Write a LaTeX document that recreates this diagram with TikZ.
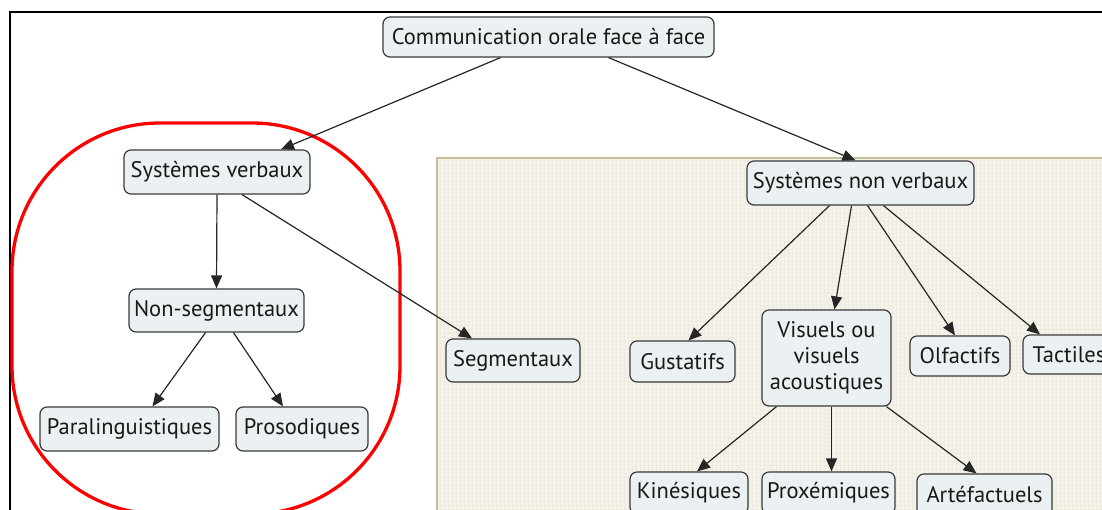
\documentclass[tikz,border=0pt]{standalone}
\usepackage{fontspec}
\setmainfont{PT Sans}
\usetikzlibrary{arrows.meta,calc}
\definecolor{nodefill}{HTML}{EBF0F2}
\definecolor{nodeline}{HTML}{3A3A3A}
\definecolor{panelfill}{HTML}{F5F3EC}
\definecolor{panelline}{HTML}{C8BE9A}
\definecolor{panelgrid}{HTML}{EEEBE1}
\begin{document}
\begin{tikzpicture}[x=1pt,y=-1pt,
  concept/.style={draw=nodeline, fill=nodefill, rounded corners=7pt, line width=1.2pt,
    inner sep=0pt, font=\fontsize{22.5}{26}\selectfont, text=black!90, align=center},
  link/.style={draw=black!85, line width=1.2pt, -{Triangle[length=13pt,width=11pt]}},
]
\useasboundingbox (0,0) rectangle (1102,509);
\clip (0,0) rectangle (1102,509);
\fill[white] (0,0) rectangle (1102,509);

% textured panel behind the non-verbal branch
\fill[panelfill] (437,158) rectangle (1110,520);
\foreach \gx in {440,444,...,1102} \draw[panelgrid, line width=0.5pt] (\gx,158) -- (\gx,509);
\foreach \gy in {161,165,...,509} \draw[panelgrid, line width=0.5pt] (437,\gy) -- (1102,\gy);
\draw[panelline, line width=2pt] (1110,158) -- (437,158) -- (437,520);

% outer frame
\draw[black, line width=2pt] (1110,12) -- (10,12) -- (10,520);

% red outline around the verbal branch
\draw[red, line width=3.3pt, rounded corners=148pt] (12,123) rectangle (400,514);

% concepts
\node[concept, minimum width=331pt, minimum height=40pt] (comm) at (548.5,37) {Communication orale face à face};
\node[concept, minimum width=186pt, minimum height=44pt] (sv) at (217,172) {Systèmes verbaux};
\node[concept, minimum width=175pt, minimum height=43pt] (ns) at (216.5,310.5) {Non-segmentaux};
\node[concept, minimum width=179pt, minimum height=44pt] (para) at (129.5,429) {Paralinguistiques};
\node[concept, minimum width=132pt, minimum height=44pt] (pros) at (302,429) {Prosodiques};
\node[concept, minimum width=134pt, minimum height=43pt] (seg) at (513,360.5) {Segmentaux};
\node[concept, minimum width=227pt, minimum height=44pt] (snv) at (860.5,183) {Systèmes non verbaux};
\node[concept, minimum width=105pt, minimum height=41pt] (gust) at (682.5,361.5) {Gustatifs};
\node[concept, minimum width=129pt, minimum height=96pt] (vis) at (826.5,358) {Visuels ou\\visuels\\acoustiques};
\node[concept, minimum width=100pt, minimum height=40pt] (olf) at (960,356) {Olfactifs};
\node[concept, minimum width=92pt, minimum height=39pt] (tac) at (1069,354.5) {Tactiles};
\node[concept, minimum width=118pt, minimum height=42pt] (kin) at (689,493) {Kinésiques};
\node[concept, minimum width=133pt, minimum height=42pt] (prox) at (828.5,493) {Proxémiques};
\node[concept, minimum width=135pt, minimum height=42pt] (art) at (984.5,495) {Artéfactuels};

% links
\draw[link] ($(comm.south)+(-48,0)$) -- ($(sv.north)+(64,0)$);
\draw[link] ($(comm.south)+(60,0)$) -- ($(snv.north)+(-5,0)$);
\draw[link] (sv.south) -- (ns.north);
\draw[link] ($(sv.south)+(25,0)$) -- ($(seg.north)+(-41,0)$);
\draw[link] ($(ns.south)+(-11,0)$) -- ($(para.north)+(23,0)$);
\draw[link] ($(ns.south)+(17,0)$) -- ($(pros.north)+(-19,0)$);
\draw[link] ($(snv.south)+(-31,0)$) -- ($(gust.north)+(6,0)$);
\draw[link] ($(snv.south)+(-9,0)$) -- ($(vis.north)+(8,0)$);
\draw[link] ($(snv.south)+(7,0)$) -- ($(olf.north)+(-5,0)$);
\draw[link] ($(snv.south)+(23,0)$) -- ($(tac.north)+(-29,0)$);
\draw[link] ($(vis.south)+(-50,0)$) -- ($(kin.north)+(8,0)$);
\draw[link] ($(vis.south)+(5,0)$) -- ($(prox.north)+(3,0)$);
\draw[link] ($(vis.south)+(60,0)$) -- ($(art.north)+(-8,0)$);
\end{tikzpicture}
\end{document}
